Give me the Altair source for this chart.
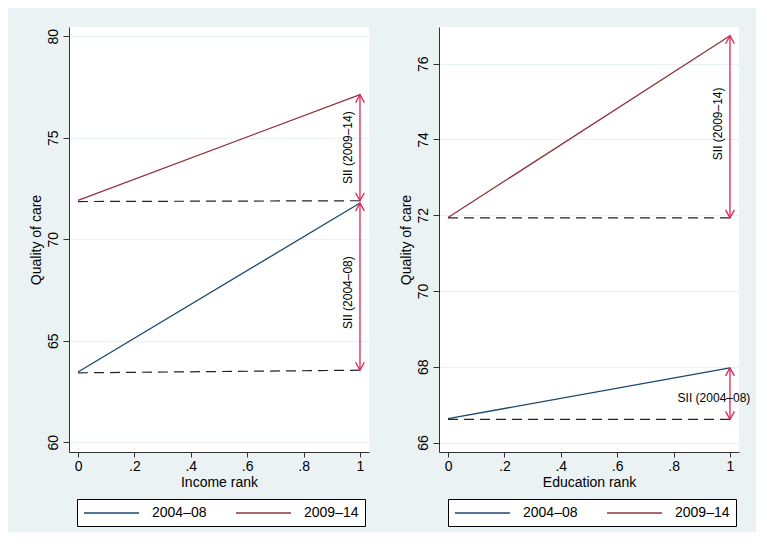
import altair as alt
import pandas as pd

# ---------------- data ----------------
periods = ["2004–08", "2009–14"]
series_colors = ["#1a476f", "#90353b"]
x_ends = [0, 1]

# Income panel (fitted lines and dashed baselines, at rank 0 and 1)
inc_fit_2004 = [63.46, 71.79]
inc_fit_2009 = [71.92, 77.13]
inc_base_2004 = [63.42, 63.55]
inc_base_2009 = [71.86, 71.90]

# Education panel
edu_fit_2004 = [66.63, 67.97]
edu_fit_2009 = [71.94, 76.74]
edu_base_2004 = [66.61, 66.61]
edu_base_2009 = [71.93, 71.93]

inc_y_ticks = [60, 65, 70, 75, 80]
edu_y_ticks = [66, 68, 70, 72, 74, 76]
x_ticks = [0, 0.2, 0.4, 0.6, 0.8, 1]
x_tick_labels = ["0", ".2", ".4", ".6", ".8", "1"]
sii_labels = ["SII (2004–08)", "SII (2009–14)"]
y_title = "Quality of care"
x_titles = ["Income rank", "Education rank"]

FONT = "Liberation Sans"
ARROW = "#dc2458"
BG = "#eaf2f3"

x_label_expr = " : ".join(
    f"abs(datum.value - {v}) < 1e-6 ? '{l}'" for v, l in zip(x_ticks, x_tick_labels)
) + " : datum.label"

UP = "M -0.55 1 L 0 0 L 0.55 1"
DOWN = "M -0.55 -1 L 0 0 L 0.55 -1"
LEGEND_LINE = "M -1 0 L 6.857 0"


def panel(fits, bases, x_title, y_dom, y_ticks, legend_x, label_styles):
    xs = alt.Scale(domain=[-0.032, 1.032], nice=False, zero=False)
    ys = alt.Scale(domain=y_dom, nice=False, zero=False)
    y_axis = alt.Axis(values=y_ticks, grid=True, labelAngle=270,
                      labelAlign="center", labelBaseline="bottom", title=y_title)
    x_axis = alt.Axis(values=x_ticks, labelExpr=x_label_expr, grid=False, title=x_title)

    lines = pd.DataFrame(
        [{"period": p, "x": x, "y": y} for p, f in zip(periods, fits) for x, y in zip(x_ends, f)]
    )
    base = pd.DataFrame(
        [{"period": p, "x": x, "y": y} for p, b in zip(periods, bases) for x, y in zip(x_ends, b)]
    )
    arrows = pd.DataFrame(
        [{"period": p, "x": x_ends[1], "lo": b[1], "hi": f[1]} for p, f, b in zip(periods, fits, bases)]
    )

    def X(field):
        return alt.X(field, scale=xs, axis=x_axis, title=x_title)

    def Y(field):
        return alt.Y(field, scale=ys, axis=y_axis, title=y_title)

    fit_layer = alt.Chart(lines).mark_line(strokeWidth=1.3).encode(
        x=X("x:Q"), y=Y("y:Q"),
        color=alt.Color(
            "period:N",
            scale=alt.Scale(domain=periods, range=series_colors),
            legend=alt.Legend(
                title=None, orient="none", legendX=legend_x, legendY=472,
                direction="horizontal", columns=2,
            ),
        ),
    )
    base_layer = alt.Chart(base).mark_line(
        strokeWidth=1.2, strokeDash=[10, 6], color="#222222"
    ).encode(x=X("x:Q"), y=Y("y:Q"), detail="period:N")
    rule_layer = alt.Chart(arrows).mark_rule(color=ARROW, strokeWidth=1.3).encode(
        x=X("x:Q"), y=Y("lo:Q"), y2="hi:Q"
    )
    head_up = alt.Chart(arrows).mark_point(
        shape=UP, filled=False, size=256, color=ARROW, strokeWidth=1.3, opacity=1
    ).encode(x=X("x:Q"), y=Y("hi:Q"))
    head_dn = alt.Chart(arrows).mark_point(
        shape=DOWN, filled=False, size=256, color=ARROW, strokeWidth=1.3, opacity=1
    ).encode(x=X("x:Q"), y=Y("lo:Q"))

    layers = [fit_layer, base_layer, rule_layer, head_up, head_dn]
    for i, (p, lab, st) in enumerate(zip(periods, sii_labels, label_styles)):
        row = arrows.iloc[[i]].copy()
        row["mid"] = (row["lo"] + row["hi"]) / 2
        row["label"] = lab
        angle, align, baseline, dx, dy = st
        layers.append(
            alt.Chart(row).mark_text(
                angle=angle, align=align, baseline=baseline, dx=dx, dy=dy,
                font=FONT, fontSize=12, color="#000000",
            ).encode(x=X("x:Q"), y=Y("mid:Q"), text="label:N")
        )
    return alt.layer(*layers).properties(width=300, height=425)


left = panel(
    [inc_fit_2004, inc_fit_2009], [inc_base_2004, inc_base_2009],
    x_titles[0], [59.52, 80.46], inc_y_ticks, 8,
    [(270, "center", "bottom", -6, -5), (270, "center", "bottom", 0, -5)],
)
right = panel(
    [edu_fit_2004, edu_fit_2009], [edu_base_2004, edu_base_2009],
    x_titles[1], [65.75, 76.97], edu_y_ticks, 9,
    [(0, "center", "middle", -16, 4), (270, "center", "bottom", 3, -5)],
)

chart = (
    alt.hconcat(left, right, spacing=30)
    .resolve_scale(color="independent", x="independent", y="independent")
    .properties(
        background=BG,
        padding={"left": 21, "top": 19, "right": 5, "bottom": 5},
    )
    .configure_view(fill="white", stroke=None)
    .configure_axis(
        labelFont=FONT, titleFont=FONT, labelFontSize=14, titleFontSize=14,
        labelColor="#000000", titleColor="#000000", titleFontWeight="normal",
        domainColor="#333333", tickColor="#333333", domainWidth=1, tickWidth=1,
        gridColor=BG, gridWidth=1,
    )
    .configure_axisX(tickSize=5, labelPadding=2, titlePadding=2)
    .configure_axisY(tickSize=6, labelPadding=3, titlePadding=3, labelAngle=270,
                     labelAlign="center", labelBaseline="bottom")
    .configure_legend(
        labelFont=FONT, labelFontSize=14, labelColor="#000000",
        symbolType=LEGEND_LINE, symbolSize=196, symbolStrokeWidth=1.3,
        symbolFillColor="transparent",
        labelOffset=53, columnPadding=26, padding=6,
        strokeColor="#000000", fillColor="white", cornerRadius=0,
    )
)

chart.save("out.html", embed_options={"renderer": "svg", "actions": False})
